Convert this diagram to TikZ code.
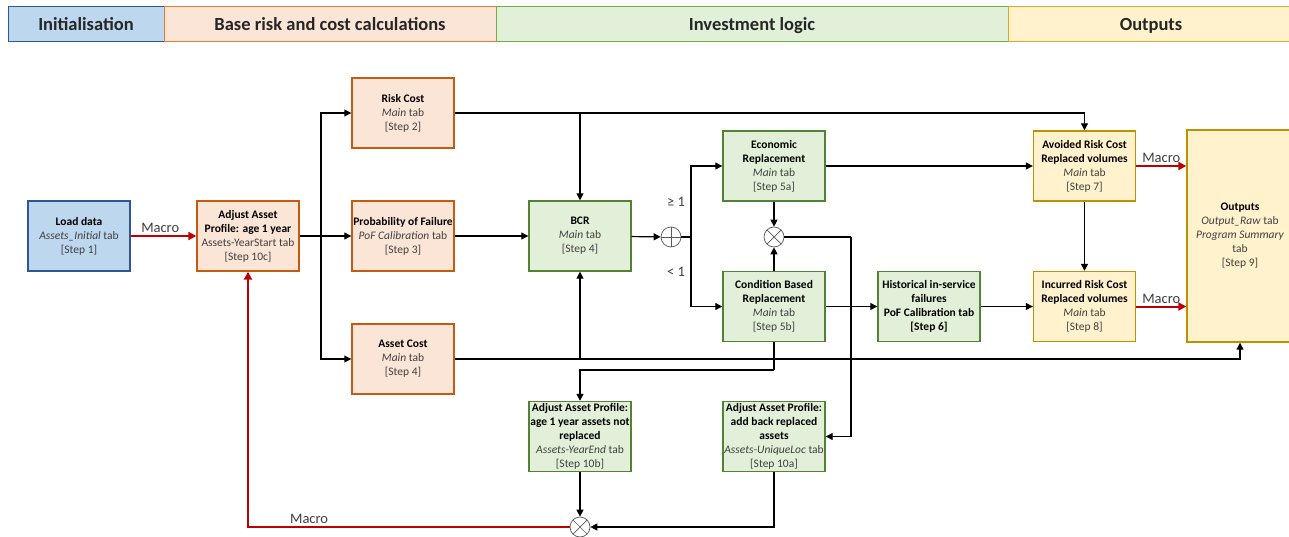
\documentclass[tikz,border=0pt]{standalone}
\usepackage{fontspec}
\setmainfont{Carlito}
\usetikzlibrary{arrows.meta}

\definecolor{bfill}{HTML}{BDD7EE}
\definecolor{bdraw}{HTML}{2F5597}
\definecolor{ofill}{HTML}{FBE5D6}
\definecolor{odraw}{HTML}{C55A11}
\definecolor{ohead}{HTML}{ED7D31}
\definecolor{gfill}{HTML}{E2F0D9}
\definecolor{gdraw}{HTML}{548235}
\definecolor{ghead}{HTML}{70AD47}
\definecolor{yfill}{HTML}{FFF2CC}
\definecolor{ydraw}{HTML}{BF9000}
\definecolor{yhead}{HTML}{E0A82E}
\definecolor{mred}{HTML}{C00000}
\definecolor{txtgray}{HTML}{404040}
\definecolor{circgray}{HTML}{595959}

\newcommand\boxtitle[1]{\textbf{\color{black}#1}}
\newcommand\boxfont{\fontsize{11.5}{14}\selectfont}
\newcommand\headfont{\fontsize{18.5}{22}\selectfont\bfseries}
\newcommand\lblfont{\fontsize{14.5}{16}\selectfont}

\tikzset{
  box/.style={draw, line width=1.4pt, minimum width=102pt, minimum height=70pt,
    align=center, inner sep=1pt, font=\boxfont, text=txtgray},
  bluebox/.style={box, fill=bfill, draw=bdraw},
  orangebox/.style={box, fill=ofill, draw=odraw},
  greenbox/.style={box, fill=gfill, draw=gdraw},
  yellowbox/.style={box, fill=yfill, draw=ydraw},
  head/.style={draw, line width=1pt, minimum height=35pt, font=\headfont,
    text=black!85, inner sep=0pt, text height=12.5pt, text depth=0pt},
  conn/.style={line width=1.2pt, black},
  arr/.style={conn, -{Triangle[length=7pt,width=7pt]}},
  macro/.style={line width=2pt, mred, -{Triangle[length=8pt,width=8pt]}},
  lbl/.style={font=\lblfont, text=txtgray, inner sep=1pt},
  junction/.style={circle, draw=circgray, fill=white, line width=0.7pt,
    minimum size=20pt, inner sep=0pt},
  plusj/.style={junction, path picture={
    \draw[circgray, line width=0.7pt]
      (path picture bounding box.north) -- (path picture bounding box.south)
      (path picture bounding box.west) -- (path picture bounding box.east);}},
  timesj/.style={junction, path picture={
    \draw[circgray, line width=0.7pt]
      (path picture bounding box.north west) -- (path picture bounding box.south east)
      (path picture bounding box.south west) -- (path picture bounding box.north east);}},
}

\begin{document}
\begin{tikzpicture}[x=1pt,y=-1pt]
\useasboundingbox (0,0) rectangle (1289,537);
\fill[white] (0,0) rectangle (1289,537);

% phase headers
\node[head, fill=bfill, draw=bdraw, minimum width=156pt] (hInit) at (86,24.5) {Initialisation};
\node[head, fill=ofill, draw=ohead, minimum width=332pt] (hBase) at (330,24.5) {Base risk and cost calculations};
\node[head, fill=gfill, draw=ghead, minimum width=512pt] (hInv) at (752,24.5) {Investment logic};
\node[head, fill=yfill, draw=yhead, minimum width=286pt] (hOut) at (1151,24.5) {Outputs};

% process boxes
\node[bluebox] (load) at (79,236) {\boxtitle{Load data}\\\textit{Assets\_Initial} tab\\{[Step 1]}};
\node[orangebox] (adj) at (248,236) {\boxtitle{Adjust Asset}\\\boxtitle{Profile: age 1 year}\\Assets-YearStart tab\\{[Step 10c]}};
\node[orangebox] (risk) at (403,113) {\boxtitle{Risk Cost}\\\textit{Main} tab\\{[Step 2]}};
\node[orangebox] (pof) at (403,236) {\boxtitle{Probability of Failure}\\\textit{PoF Calibration} tab\\{[Step 3]}};
\node[orangebox] (asset) at (403,359) {\boxtitle{Asset Cost}\\\textit{Main} tab\\{[Step 4]}};
\node[greenbox] (bcr) at (580,236) {\boxtitle{BCR}\\\textit{Main} tab\\{[Step 4]}};
\node[greenbox] (econ) at (774,166) {\boxtitle{Economic}\\\boxtitle{Replacement}\\\textit{Main} tab\\{[Step 5a]}};
\node[greenbox] (cond) at (774,306.5) {\boxtitle{Condition Based}\\\boxtitle{Replacement}\\\textit{Main} tab\\{[Step 5b]}};
\node[greenbox] (hist) at (929,306.5) {\boxtitle{Historical in-service}\\\boxtitle{failures}\\\boxtitle{PoF Calibration tab}\\\boxtitle{[Step 6]}};
\node[yellowbox] (avoid) at (1084.5,166) {\boxtitle{Avoided Risk Cost}\\\boxtitle{Replaced volumes}\\\textit{Main} tab\\{[Step 7]}};
\node[yellowbox] (incur) at (1084.5,306.5) {\boxtitle{Incurred Risk Cost}\\\boxtitle{Replaced volumes}\\\textit{Main} tab\\{[Step 8]}};
\node[yellowbox, minimum width=106pt, minimum height=212pt] (out) at (1240,236)
  {\boxtitle{Outputs}\\\textit{Output\_Raw} tab\\\textit{Program Summary}\\tab\\{[Step 9]}};
\node[greenbox] (adjB) at (580,436.5) {\boxtitle{Adjust Asset Profile:}\\\boxtitle{age 1 year assets not}\\\boxtitle{replaced}\\\textit{Assets-YearEnd} tab\\{[Step 10b]}};
\node[greenbox] (adjA) at (774,436.5) {\boxtitle{Adjust Asset Profile:}\\\boxtitle{add back replaced}\\\boxtitle{assets}\\\textit{Assets-UniqueLoc} tab\\{[Step 10a]}};

% junctions
\node[plusj] (plus) at (671,237) {};
\node[timesj] (cross) at (774,237) {};
\node[timesj] (merge) at (580,527) {};

% branch points
\coordinate (fan) at (321,236);
\coordinate (dec) at (691,237);
\coordinate (back) at (851,237);
\coordinate (keep) at (774,370);

% initialisation
\draw[macro] (load) -- node[lbl, above=1pt, pos=0.45] {Macro} (adj);

% base risk and cost fan-out
\draw[conn] (adj) -- (fan);
\draw[arr] (fan) |- (risk.west);
\draw[arr] (fan) -- (pof);
\draw[arr] (fan) |- (asset.west);

% into BCR
\draw[arr] (risk.east) -| (avoid.north);
\draw[arr] (risk.east -| bcr.north) -- (bcr.north);
\draw[arr] (pof) -- (bcr);
\draw[arr] (asset.east) -| (out.south);
\draw[arr] (asset.east -| bcr.south) -- (bcr.south);

% BCR decision
\draw[arr] (bcr) -- (plus);
\draw[conn] (plus) -- (dec);
\draw[arr] (dec) |- (econ.west);
\draw[arr] (dec) |- (cond.west);
\node[lbl, anchor=west] (ge) at (666,202) {≥ 1};
\node[lbl, anchor=west] (lt) at (666,272) {< 1};

% replacement paths
\draw[arr] (econ.east) -- (econ.east -| avoid.west);
\draw[arr] (econ) -- (cross);
\draw[arr] (cond) -- (cross);
\draw[arr] (cond.east) -- (cond.east -| hist.west);
\draw[arr] (hist.east) -- (hist.east -| incur.west);
\draw[arr] (avoid) -- (incur);
\draw[conn] (cross) -- (back);
\draw[arr] (back) |- (adjA.east);
\draw[conn] (cond.south) -- (keep);
\draw[arr] (keep) -| (adjB.north);

% outputs
\draw[macro] (avoid.east) -- node[lbl, above=1pt] {Macro} (avoid.east -| out.west);
\draw[macro] (incur.east) -- node[lbl, above=1pt] {Macro} (incur.east -| out.west);

% year roll-over loop
\draw[arr] (adjB) -- (merge);
\draw[arr] (adjA.south) |- (merge.east);
\draw[macro] (merge.west) -| node[lbl, above=1pt, pos=0.405] {Macro} (adj.south);
\end{tikzpicture}
\end{document}
